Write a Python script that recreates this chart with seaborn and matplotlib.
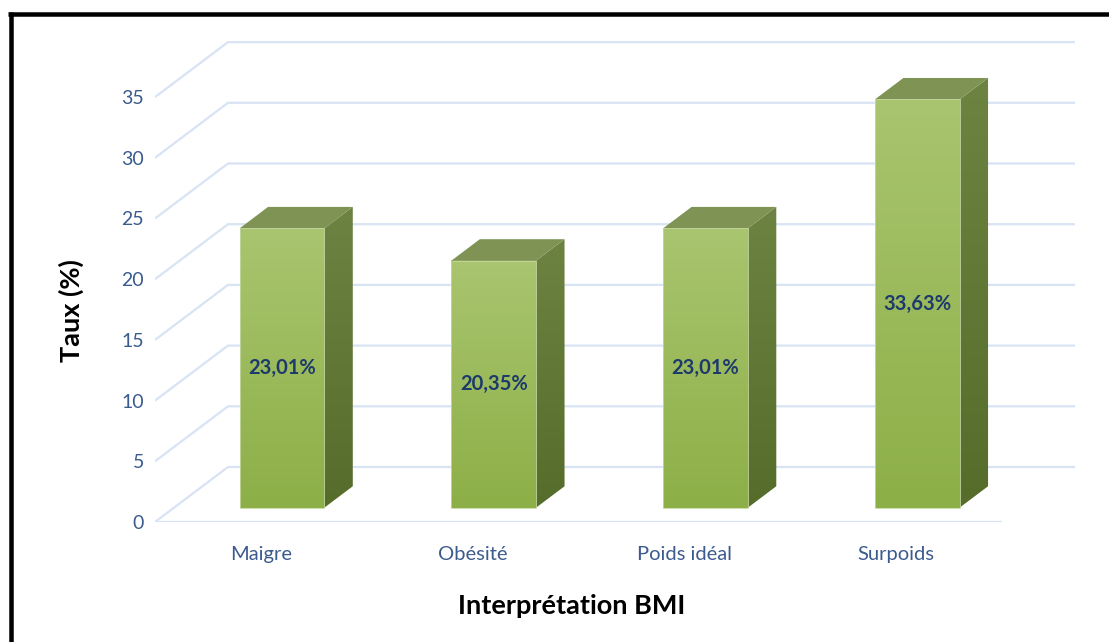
import numpy as np
import matplotlib
matplotlib.use("Agg")
import matplotlib.pyplot as plt
from matplotlib.patches import Polygon
from matplotlib.lines import Line2D
from matplotlib.colors import LinearSegmentedColormap
import seaborn as sns

# Data
categories = ["Maigre", "Obésité", "Poids idéal", "Surpoids"]
taux = [23.01, 20.35, 23.01, 33.63]
y_ticks = [0, 5, 10, 15, 20, 25, 30, 35]

sns.set_theme(style="white")
plt.rcParams["font.family"] = ["Lato", "DejaVu Sans"]

W, H, DPI = 1109, 642, 100
fig = plt.figure(figsize=(W / DPI, H / DPI), dpi=DPI)
fig.patch.set_facecolor("white")
ax = fig.add_axes([155 / W, (H - 522) / H, 920 / W, 481 / H])

# Oblique "3D" projection: depth vector of the floor in data units
x_max = -0.5 + 920 / 211.75
y_max = 481 / 12.14
depth = np.array([73 / 211.75, 55 / 12.14])
front = 0.26   # depth fraction of the bar front faces
thick = 0.39   # depth fraction occupied by each bar

# Floor / wall gridlines
grid_kw = dict(color="#d8e3f4", lw=1.6, zorder=0, solid_capstyle="butt")
for v in y_ticks:
    if v == 0:
        ax.plot([-0.5, len(categories) - 0.5], [0, 0], **grid_kw)
    ax.plot([-0.5, -0.5 + depth[0], len(categories) - 0.5 + depth[0]],
            [v, v + depth[1], v + depth[1]], **grid_kw)

# Bars
sns.barplot(x=categories, y=taux, width=0.4, color="#9dbb5a", ax=ax, zorder=2)

front_cmap = LinearSegmentedColormap.from_list("front", ["#8daf47", "#a9c56f"])
side_cmap = LinearSegmentedColormap.from_list("side", ["#566c2b", "#6d8341"])
grad = np.linspace(0, 1, 256)[:, None]

off = front * depth
sx, sy = thick * depth
for patch, v in zip(list(ax.patches), taux):
    x0 = patch.get_x() + off[0] + 0.01
    w = patch.get_width()
    patch.set_x(x0)
    patch.set_y(off[1])
    patch.set_facecolor("none")
    patch.set_edgecolor("#c6d8a2")
    patch.set_linewidth(0.6)
    patch.set_zorder(4)
    x1 = x0 + w
    b = off[1]
    t = b + v

    # front face gradient
    ax.imshow(grad, cmap=front_cmap, extent=(x0, x1, b, t), aspect="auto",
              origin="lower", zorder=2)

    # side face
    side = Polygon([(x1, b), (x1 + sx, b + sy), (x1 + sx, t + sy), (x1, t)],
                   closed=True, facecolor="none", edgecolor="none", zorder=2)
    ax.add_patch(side)
    im = ax.imshow(grad, cmap=side_cmap, extent=(x1, x1 + sx, b, t + sy),
                   aspect="auto", origin="lower", zorder=2)
    im.set_clip_path(side)

    # top face
    ax.add_patch(Polygon([(x0, t), (x1, t), (x1 + sx, t + sy), (x0 + sx, t + sy)],
                         closed=True, facecolor="#7e9354", edgecolor="none",
                         zorder=3))

    # value label
    ax.text((x0 + x1) / 2, b + v / 2, f"{v:.2f}".replace(".", ",") + "%",
            ha="center", va="center", fontsize=14.5, fontweight="bold",
            color="#1c3a6b", zorder=5)

ax.set_xlim(-0.5, x_max)
ax.set_ylim(0, y_max)
ax.set_yticks(y_ticks)
ax.set_yticklabels([str(t) for t in y_ticks])
ax.tick_params(axis="y", length=0, pad=8, labelsize=14, labelcolor="#3b5b8e")
ax.tick_params(axis="x", length=0, pad=17, labelsize=14.5, labelcolor="#3b5b8e")
for s in ax.spines.values():
    s.set_visible(False)
ax.grid(False)
ax.set_facecolor("none")

ax.set_xlabel("Interprétation BMI", fontsize=19.5, fontweight="bold", color="black")
ax.xaxis.set_label_coords((572 - 155) / 920, -0.15)
ax.set_ylabel("Taux (%)", fontsize=19.5, fontweight="bold", color="black")
ax.yaxis.set_label_coords((84 - 155) / 920, 0.44)

# Outer frame (top and left edges)
lw_pt = 4.5 * 72 / DPI
fig.add_artist(Line2D([8 / W, 1.0], [1 - 14 / H, 1 - 14 / H],
                      transform=fig.transFigure, color="black", lw=lw_pt,
                      solid_capstyle="butt"))
fig.add_artist(Line2D([10.5 / W, 10.5 / W], [0, 1 - 12 / H],
                      transform=fig.transFigure, color="black", lw=lw_pt,
                      solid_capstyle="butt"))

fig.savefig("out.png", dpi=DPI)
